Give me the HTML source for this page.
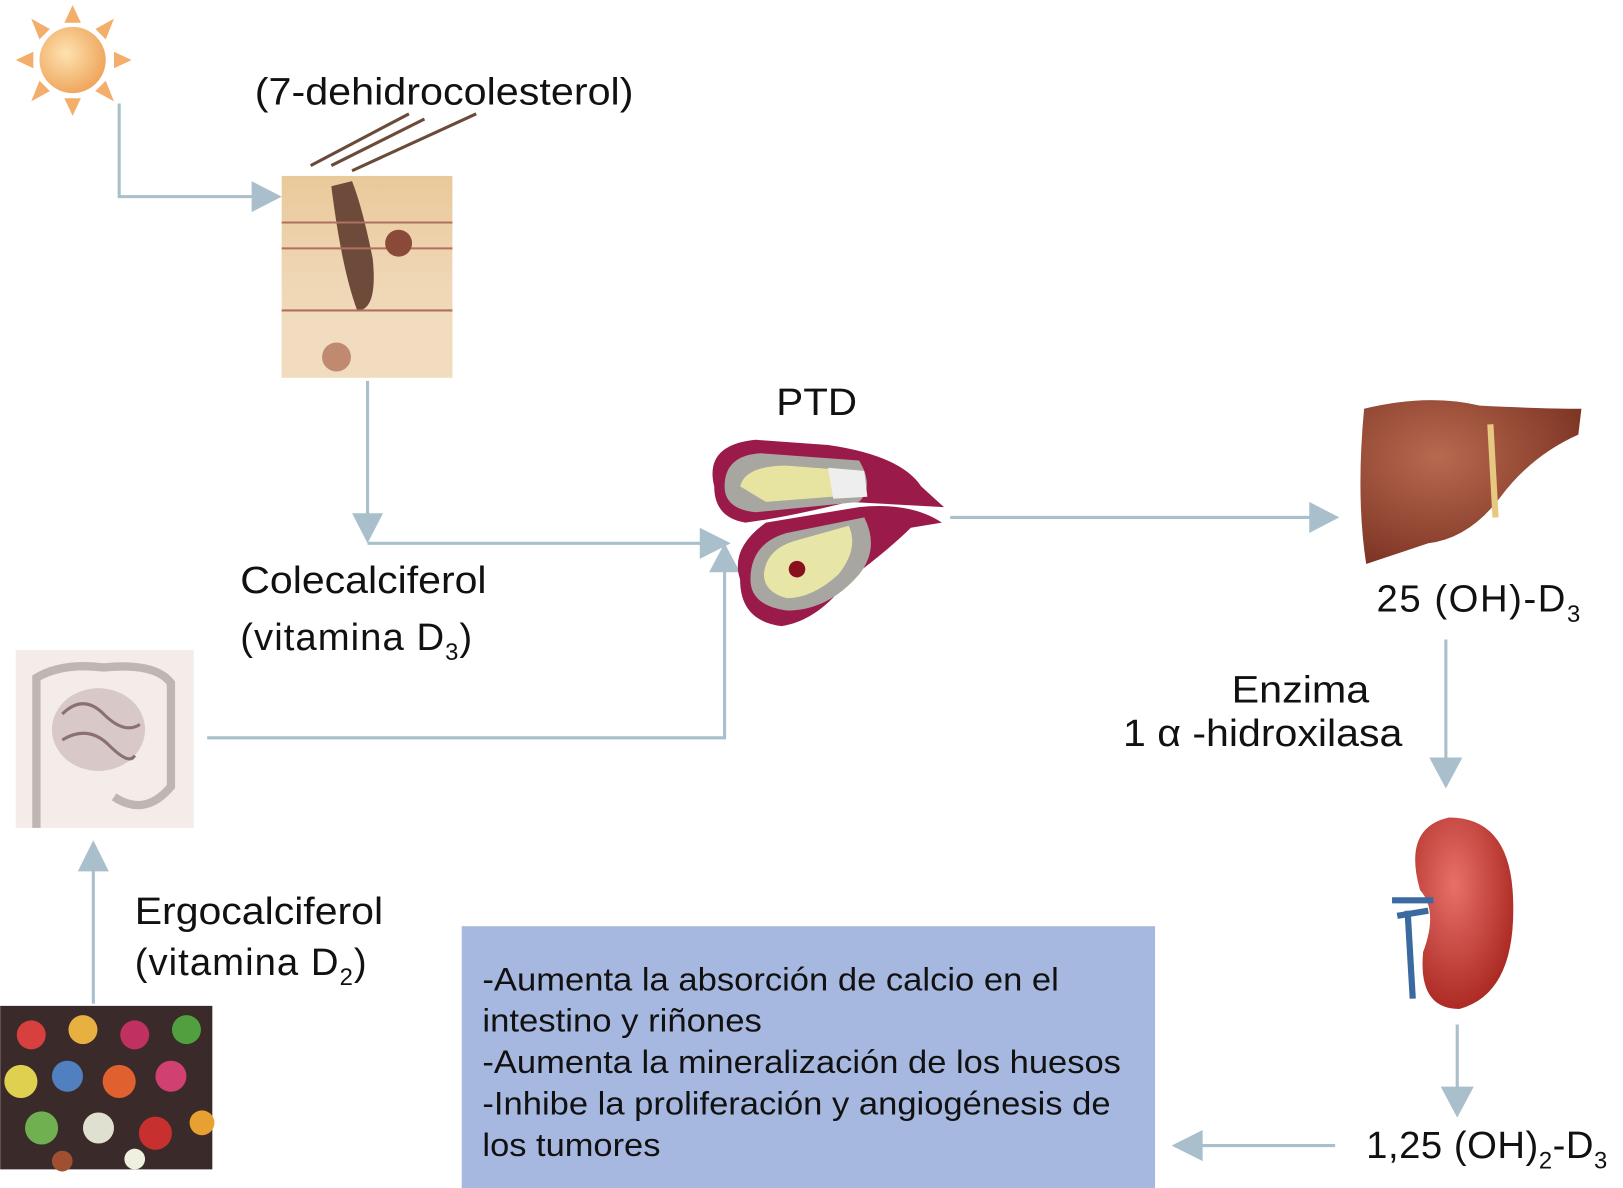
<!DOCTYPE html>
<html><head><meta charset="utf-8"><style>
html,body{margin:0;padding:0;background:#fff}
svg{display:block}
text{font-family:"Liberation Sans",sans-serif;fill:#111}
</style></head><body>
<svg width="1623" height="1188" viewBox="0 0 1568 1148" xmlns="http://www.w3.org/2000/svg">
<defs>
<radialGradient id="sun" cx="0.4" cy="0.4" r="0.6"><stop offset="0" stop-color="#fde2b0"/><stop offset="1" stop-color="#f0a860"/></radialGradient>
<linearGradient id="skin" x1="0" y1="0" x2="0" y2="1"><stop offset="0" stop-color="#e9c99a"/><stop offset="0.5" stop-color="#efd6b4"/><stop offset="1" stop-color="#f3dfc1"/></linearGradient>
<radialGradient id="liver" cx="0.35" cy="0.35" r="0.7"><stop offset="0" stop-color="#b86a50"/><stop offset="1" stop-color="#7e3524"/></radialGradient>
<radialGradient id="kid" cx="0.4" cy="0.35" r="0.7"><stop offset="0" stop-color="#e8706a"/><stop offset="1" stop-color="#a8261f"/></radialGradient>
</defs>

<g fill="#f2ae6a">
<polygon points="70,5 78,22 62,22"/><polygon points="70,112 78,95 62,95"/>
<polygon points="15,58 32,50 32,66"/><polygon points="127,58 110,50 110,66"/>
<polygon points="30,18 48,28 38,38"/><polygon points="110,18 92,28 102,38"/>
<polygon points="30,98 48,88 38,78"/><polygon points="110,98 92,88 102,78"/>
</g>
<circle cx="70" cy="58" r="32" fill="url(#sun)"/>

<text x="246" y="101" font-size="37" textLength="366" lengthAdjust="spacingAndGlyphs">(7-dehidrocolesterol)</text>

<g stroke="#a9bfcc" stroke-width="3" fill="none">
<polyline points="115,100 115,190 248,190"/>
<polyline points="355,368 355,500"/>
<polyline points="355,525 680,525"/>
<polyline points="200,713 700,713 700,550"/>
<polyline points="918,500 1268,500"/>
<polyline points="1397,618 1397,735"/>
<polyline points="1408,990 1408,1052"/>
<polyline points="1290,1107 1160,1107"/>
<polyline points="90,970 90,840"/>
</g>
<g fill="#a9bfcc">
<polygon points="272,190 243,175 243,205"/>
<polygon points="355,525 340,496 370,496"/>
<polygon points="706,525 676,510 676,540"/>
<polygon points="700,525 685,553 715,553"/>
<polygon points="1294,500 1265,485 1265,515"/>
<polygon points="1397,762 1381,732 1413,732"/>
<polygon points="1408,1080 1392,1050 1424,1050"/>
<polygon points="1132,1107 1162,1092 1162,1122"/>
<polygon points="90,812 75,842 105,842"/>
</g>

<rect x="272" y="170" width="165" height="195" fill="url(#skin)"/>
<rect x="272" y="300" width="165" height="65" fill="#f1dcc0"/>
<path d="M300,160 L395,110 M320,160 L410,115 M340,165 L460,110" stroke="#6b4a3a" stroke-width="3"/>
<path d="M320,180 Q330,260 345,300 Q365,300 360,250 Q350,200 340,175Z" fill="#6e4a3a"/>
<path d="M272,215 H437 M272,240 H437 M272,300 H437" stroke="#b07060" stroke-width="2"/>
<circle cx="385" cy="235" r="13" fill="#8a4a3a"/>
<circle cx="325" cy="345" r="14" fill="#c08a70"/>

<text x="750" y="401" font-size="37" textLength="78" lengthAdjust="spacingAndGlyphs">PTD</text>

<g>
<path d="M690,470 Q680,430 730,425 L800,430 Q870,440 890,470 L912,490 L820,485 Q760,500 720,505 Q690,500 690,470Z" fill="#9a1a4a"/>
<path d="M700,470 Q700,440 735,438 L830,445 Q845,470 830,485 L730,495 Q700,492 700,470Z" fill="#a8a6a0"/>
<path d="M715,470 Q720,450 760,450 L825,455 L830,478 L740,485 Z" fill="#e6e4a0"/>
<path d="M800,452 L835,455 L838,480 L805,482Z" fill="#eeeeee"/>
<path d="M715,560 Q705,530 740,505 L830,490 Q880,485 910,505 L880,510 Q860,530 820,560 Q790,600 755,605 Q715,600 715,560Z" fill="#9a1a4a"/>
<path d="M725,560 Q725,525 760,515 L835,500 Q850,530 830,555 Q800,590 760,590 Q725,585 725,560Z" fill="#a8a6a0"/>
<path d="M738,555 Q740,530 770,522 L820,508 Q830,530 810,555 Q785,578 760,578 Q738,572 738,555Z" fill="#e8e6a6"/>
<circle cx="770" cy="550" r="8" fill="#8a1020"/>
</g>

<text x="232" y="573" font-size="37" textLength="238" lengthAdjust="spacingAndGlyphs">Colecalciferol</text>
<text x="232" y="628" font-size="37" letter-spacing="1">(vitamina D<tspan font-size="23" dy="10">3</tspan><tspan dy="-10">)</tspan></text>

<rect x="15" y="628" width="172" height="172" fill="#f4ece8"/>
<path d="M35,800 L35,655 Q60,640 100,645 Q150,640 165,660 L165,760 Q140,790 110,770" fill="none" stroke="#8a8080" stroke-width="8" opacity="0.5"/>
<ellipse cx="95" cy="705" rx="45" ry="40" fill="#d8c8c8"/>
<path d="M60,690 Q80,670 100,690 T135,700 M60,715 Q85,700 105,720 T130,730" stroke="#8a7070" stroke-width="3" fill="none"/>

<path d="M1318,395 Q1380,380 1430,392 Q1490,395 1528,395 L1525,420 Q1480,440 1450,480 Q1420,520 1380,525 L1320,545 Q1310,480 1318,395Z" fill="url(#liver)"/>
<path d="M1440,410 L1445,500" stroke="#e8c880" stroke-width="6"/>

<text x="1330" y="591" font-size="37" letter-spacing="1.5">25 (OH)-D<tspan font-size="23" dy="10">3</tspan></text>
<text x="1190" y="679" font-size="37" textLength="133" lengthAdjust="spacingAndGlyphs">Enzima</text>
<text x="1085" y="721" font-size="37" textLength="270" lengthAdjust="spacingAndGlyphs">1 α -hidroxilasa</text>

<path d="M1400,790 Q1460,790 1462,870 Q1465,960 1410,975 Q1370,975 1375,920 Q1390,880 1372,860 Q1355,800 1400,790Z" fill="url(#kid)"/>
<path d="M1345,870 L1385,870 M1350,885 L1380,880 M1360,880 L1365,965" stroke="#3a6aa0" stroke-width="6"/>

<text x="1320" y="1119" font-size="37" letter-spacing="0.5">1,25 (OH)<tspan font-size="23" dy="10">2</tspan><tspan dy="-10">-D</tspan><tspan font-size="23" dy="10">3</tspan></text>

<rect x="446" y="895" width="670" height="253" fill="#a7b8e0"/>
<g font-size="31">
<text x="466" y="957" textLength="557" lengthAdjust="spacingAndGlyphs">-Aumenta la absorción de calcio en el</text>
<text x="466" y="997" textLength="270" lengthAdjust="spacingAndGlyphs">intestino y riñones</text>
<text x="466" y="1037" textLength="617" lengthAdjust="spacingAndGlyphs">-Aumenta la mineralización de los huesos</text>
<text x="466" y="1077" textLength="607" lengthAdjust="spacingAndGlyphs">-Inhibe la proliferación y angiogénesis de</text>
<text x="466" y="1117" textLength="172" lengthAdjust="spacingAndGlyphs">los tumores</text>
</g>

<text x="130" y="893" font-size="37" textLength="240" lengthAdjust="spacingAndGlyphs">Ergocalciferol</text>
<text x="130" y="942" font-size="37" letter-spacing="1">(vitamina D<tspan font-size="23" dy="10">2</tspan><tspan dy="-10">)</tspan></text>

<rect x="0" y="972" width="205" height="158" fill="#3a2a2a"/>
<g>
<circle cx="30" cy="1000" r="14" fill="#d84040"/><circle cx="80" cy="995" r="14" fill="#e8b040"/><circle cx="130" cy="1000" r="14" fill="#c03060"/><circle cx="180" cy="995" r="14" fill="#50a040"/>
<circle cx="20" cy="1045" r="16" fill="#e0d050"/><circle cx="65" cy="1040" r="15" fill="#5080c0"/><circle cx="115" cy="1045" r="16" fill="#e06030"/><circle cx="165" cy="1040" r="15" fill="#d04070"/>
<circle cx="40" cy="1090" r="16" fill="#70b050"/><circle cx="95" cy="1090" r="15" fill="#e0e0d0"/><circle cx="150" cy="1095" r="16" fill="#c83030"/><circle cx="195" cy="1085" r="12" fill="#e8a030"/>
<circle cx="130" cy="1120" r="10" fill="#f0f0e0"/><circle cx="60" cy="1122" r="10" fill="#a05030"/>
</g>
</svg>
</body></html>
